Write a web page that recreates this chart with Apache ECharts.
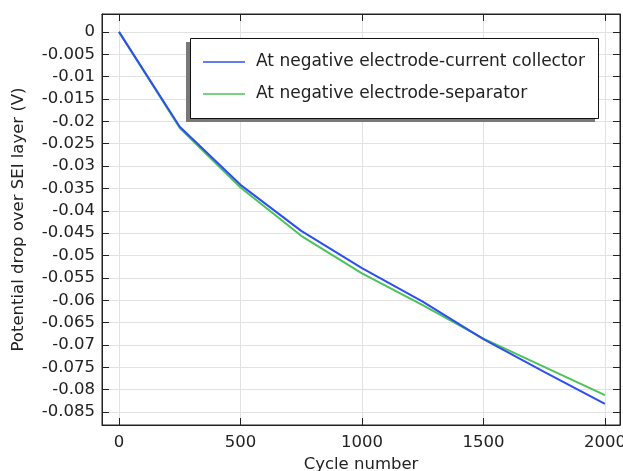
<!DOCTYPE html>
<html>
<head>
<meta charset="utf-8">
<script src="https://cdn.jsdelivr.net/npm/echarts@6/dist/echarts.min.js"></script>
<style>html,body{margin:0;padding:0;background:#fff}#c{width:623px;height:471px}</style>
</head>
<body>
<div id="c"></div>
<script>
var cycles = [0, 250, 500, 750, 1000, 1250, 1500, 1750, 2000];
var currentCollector = [0, -0.0212, -0.0342, -0.0445, -0.0528, -0.0603, -0.0687, -0.0760, -0.0832];
var separator = [0, -0.0215, -0.0348, -0.0456, -0.0540, -0.0611, -0.0686, -0.0749, -0.0812];
var seriesNames = ['At negative electrode-current collector', 'At negative electrode-separator'];
var xAxisName = 'Cycle number';
var yAxisName = 'Potential drop over SEI layer (V)';

function pairs(xs, ys) { return xs.map(function (x, i) { return [x, ys[i]]; }); }

var FONT = 'DejaVu Sans';
var xr = { min: -70, max: 2062 };
var yr = { min: -0.0879, max: 0.004 };
var chart = echarts.init(document.getElementById('c'), null, { renderer: 'canvas' });
var tickStyle = { show: true, inside: true, length: 7, lineStyle: { color: '#222', width: 1 } };
chart.setOption({
  animation: false,
  backgroundColor: '#fff',
  textStyle: { fontFamily: FONT },
  grid: { left: 102, right: 3, top: 14, bottom: 46, outerBoundsMode: 'none', containLabel: false,
          show: true, borderColor: '#222', borderWidth: 1, backgroundColor: 'transparent' },
  legend: {
    orient: 'vertical', left: 190, top: 38,
    padding: [15, 14, 15, 13], itemGap: 14,
    itemWidth: 42, itemHeight: 18,
    backgroundColor: '#fff', borderWidth: 0,
    shadowColor: 'rgba(120,120,120,1)', shadowBlur: 0, shadowOffsetX: -4, shadowOffsetY: 4,
    textStyle: { fontFamily: FONT, fontSize: 17, color: '#222', lineHeight: 18, padding: [0, 0, 0, 6] },
    icon: 'path://M0,0 L30,0 L30,1 L0,1 Z',
    data: seriesNames
  },
  graphic: [{
    type: 'rect', z: 100, silent: true,
    shape: { x: 190.5, y: 38.5, width: 408, height: 80 },
    style: { fill: 'none', stroke: '#111', lineWidth: 1 }
  }],
  xAxis: [{
    type: 'value', min: xr.min, max: xr.max, splitNumber: 5,
    name: xAxisName, nameLocation: 'middle', nameGap: 26,
    nameTextStyle: { fontFamily: FONT, fontSize: 16.5, color: '#222' },
    axisLine: { show: true, onZero: false, lineStyle: { color: '#222', width: 1 } },
    axisTick: tickStyle,
    axisLabel: { fontFamily: FONT, fontSize: 16.5, color: '#222', margin: 9, showMinLabel: false, showMaxLabel: false,
                 formatter: function (v) { return String(v); } },
    splitLine: { show: true, lineStyle: { color: '#e2e2e2', width: 1 } }
  }, {
    type: 'value', position: 'top', min: xr.min, max: xr.max, splitNumber: 5,
    axisLine: { show: true, onZero: false, lineStyle: { color: '#222', width: 1 } },
    axisTick: tickStyle, axisLabel: { show: false }, splitLine: { show: false }
  }],
  yAxis: [{
    type: 'value', min: yr.min, max: yr.max, splitNumber: 18,
    name: yAxisName, nameLocation: 'middle', nameGap: 75,
    nameTextStyle: { fontFamily: FONT, fontSize: 16.5, color: '#222' },
    axisLine: { show: true, onZero: false, lineStyle: { color: '#222', width: 1 } },
    axisTick: tickStyle,
    axisLabel: { fontFamily: FONT, fontSize: 16.5, color: '#222', margin: 7, showMinLabel: false, showMaxLabel: false },
    splitLine: { show: true, lineStyle: { color: '#e2e2e2', width: 1 } }
  }, {
    type: 'value', position: 'right', min: yr.min, max: yr.max, splitNumber: 18,
    axisLine: { show: true, onZero: false, lineStyle: { color: '#222', width: 1 } },
    axisTick: tickStyle, axisLabel: { show: false }, splitLine: { show: false }
  }],
  series: [{
    name: seriesNames[0], type: 'line', data: pairs(cycles, currentCollector),
    showSymbol: false, symbol: 'none', color: '#2d4ff0', lineStyle: { width: 2, color: '#2d4ff0' }, z: 3
  }, {
    name: seriesNames[1], type: 'line', data: pairs(cycles, separator),
    showSymbol: false, symbol: 'none', color: '#4cc35a', lineStyle: { width: 2, color: '#4cc35a' }, z: 2
  }]
});
</script>
</body>
</html>
